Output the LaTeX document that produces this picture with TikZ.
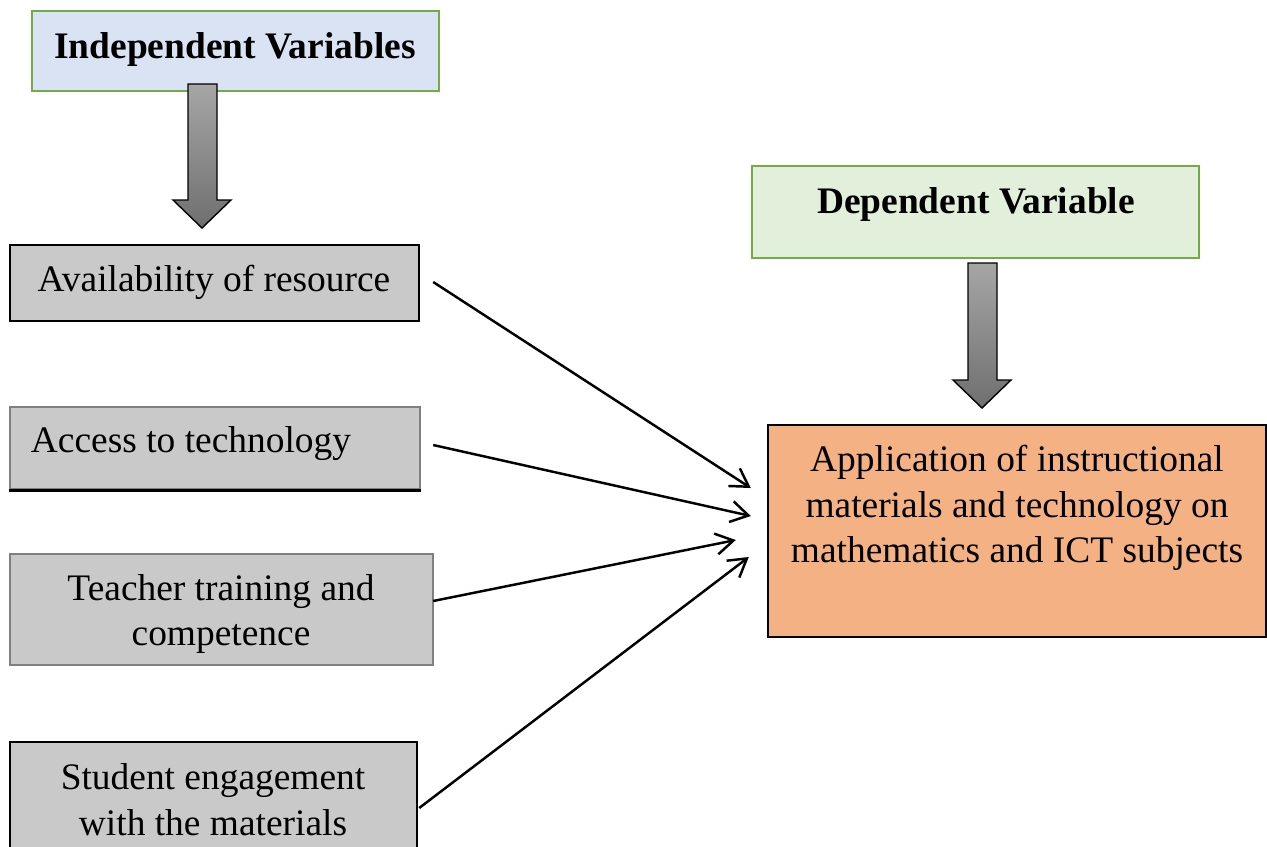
\documentclass[tikz,border=0pt]{standalone}
\usepackage{fontspec}
\setmainfont{Liberation Serif}
\usetikzlibrary{arrows.meta,calc}

\definecolor{ivfill}{HTML}{DAE3F3}
\definecolor{dvfill}{HTML}{E2EFDA}
\definecolor{hdrline}{HTML}{70AD47}
\definecolor{factorfill}{HTML}{C9C9C9}
\definecolor{softline}{HTML}{7F7F7F}
\definecolor{outfill}{HTML}{F4B183}
\definecolor{shadetop}{HTML}{A6A6A6}
\definecolor{shadebot}{HTML}{6F6F6F}

\tikzset{
  boxbase/.style={rectangle, inner sep=0pt, line width=1.4pt},
  header/.style={boxbase, draw=hdrline},
  factor/.style={boxbase, draw=black, fill=factorfill},
  softfactor/.style={boxbase, draw=softline, fill=factorfill},
  outcome/.style={boxbase, draw=black, fill=outfill},
  label/.style={inner sep=0pt, align=center, font=\fontsize{21.3}{26}\selectfont},
  hlabel/.style={label, font=\fontsize{21.3}{26}\selectfont\bfseries},
  link/.style={line width=1.4pt, -{Straight Barb[length=10pt,width=12pt,line width=1.4pt]}},
  blockarrow/.style={draw=black, line width=0.8pt, top color=shadetop, bottom color=shadebot}
}

\begin{document}
\begin{tikzpicture}[x=0.02cm, y=-0.02cm]
\clip (0,0) rectangle (1267,846);
\fill[white] (0,0) rectangle (1267,846);

% headers
\node[header, fill=ivfill, minimum width=8.14cm, minimum height=1.6cm] (iv) at (235.5,51) {};
\node[hlabel] (ivtext) at (235,49) {Independent Variables};
\node[header, fill=dvfill, minimum width=8.94cm, minimum height=1.84cm] (dv) at (975.5,212) {};
\node[hlabel] (dvtext) at (976,204) {Dependent Variable};

% block arrows below the headers
\shade[blockarrow] (188,84) -- (217,84) -- (217,200) -- (231,200) -- (202,228)
  -- (173,200) -- (188,200) -- cycle;
\shade[blockarrow] (968,263) -- (997,263) -- (997,380) -- (1011,380) -- (982,408)
  -- (953,380) -- (968,380) -- cycle;

% independent factors
\node[factor, minimum width=8.18cm, minimum height=1.52cm] (avail) at (214.5,283) {};
\node[label] (availtext) at (214,282) {Availability of resource};

\node[softfactor, minimum width=8.2cm, minimum height=1.64cm] (access) at (215,448) {};
\draw[line width=1.6pt] (access.south west) -- (access.south east);
\node[label] (accesstext) at (191,444) {Access to technology};

\node[softfactor, minimum width=8.46cm, minimum height=2.22cm] (teacher) at (221.5,609.5) {};
\node[label] (teachertext) at (221,614) {Teacher training and\\competence};

\node[factor, minimum width=8.14cm, minimum height=3.16cm] (student) at (213.5,821) {};
\node[label] (studenttext) at (213,800) {Student engagement\\with the materials};

% outcome
\node[outcome, minimum width=9.96cm, minimum height=4.24cm] (out) at (1017,531) {};
\node[label] (outtext) at (1017,508) {Application of instructional\\materials and technology on\\mathematics and ICT subjects};

% connectors
\draw[link] ($(avail.east)+(13,-1)$) -- ($(out.west)+(-16,-43)$);
\draw[link] ($(access.east)+(12,-3)$) -- ($(out.west)+(-16,-15)$);
\draw[link] ($(teacher.east)+(-1,-8.5)$) -- ($(out.west)+(-31,9)$);
\draw[link] ($(student.east)+(1,-13)$) -- ($(out.west)+(-18,26)$);
\end{tikzpicture}
\end{document}
